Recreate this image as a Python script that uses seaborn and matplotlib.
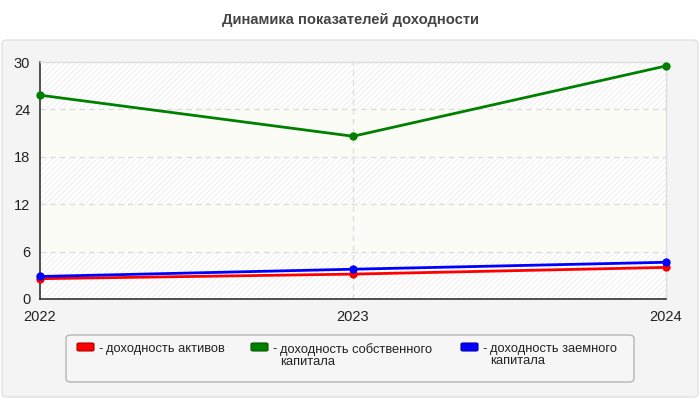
import numpy as np
import pandas as pd
import matplotlib.pyplot as plt
import seaborn as sns
from matplotlib.patches import FancyBboxPatch

# data
years = [2022, 2023, 2024]
roa = [2.57, 3.15, 4.0]        # доходность активов
roe = [25.8, 20.6, 29.5]       # доходность собственного капитала
rod = [2.85, 3.77, 4.65]       # доходность заемного капитала
labels = ['доходность активов',
          'доходность собственного\nкапитала',
          'доходность заемного\nкапитала']
colors = ['#ff0000', '#008000', '#0000ff']
edge_colors = ['#b00000', '#005a00', '#0000b0']
y_ticks = [0, 6, 12, 18, 24, 30]

df = pd.DataFrame({'year': years * 3,
                   'value': roa + roe + rod,
                   'series': [labels[0]] * 3 + [labels[1]] * 3 + [labels[2]] * 3})

sns.set_style('white')
plt.rcParams['font.family'] = ['Liberation Sans', 'DejaVu Sans']
plt.rcParams['hatch.linewidth'] = 0.6

fig = plt.figure(figsize=(7, 4), dpi=100)
fig.patch.set_facecolor('white')

# grey rounded panel under the title
panel = FancyBboxPatch((2 / 700, 3 / 400), 696 / 700, 357 / 400,
                       boxstyle='round,pad=0,rounding_size=0.008',
                       transform=fig.transFigure, facecolor='#f4f4f4',
                       edgecolor='#e2e2e2', linewidth=1, zorder=-5)
fig.patches.append(panel)

fig.text(0.5, 1 - 20 / 400, 'Динамика показателей доходности', ha='center', va='center',
         fontsize=10.6, fontweight='bold', color='#444444')

ax = fig.add_axes([40 / 700, 1 - 299 / 400, 626 / 700, 237 / 400])
ax.set_facecolor('white')

# alternating bands: hatched / pale yellow
for i in range(len(y_ticks) - 1):
    lo, hi = y_ticks[i], y_ticks[i + 1]
    if i % 2 == 0:
        ax.axhspan(lo, hi, facecolor='white', edgecolor='#ececec', hatch='//////',
                   linewidth=0, zorder=0)
    else:
        ax.axhspan(lo, hi, facecolor='#fcfcf6', linewidth=0, zorder=0)

for yt in y_ticks[1:-1]:
    ax.axhline(yt, color='#dddddd', linestyle=(0, (4, 3)), linewidth=1, zorder=1)
ax.axvline(2023, color='#dddddd', linestyle=(0, (4, 3)), linewidth=1, zorder=1)

sns.lineplot(data=df, x='year', y='value', hue='series', palette=colors,
             marker='o', markersize=6, markeredgewidth=0, linewidth=2,
             legend=False, ax=ax, zorder=3, clip_on=False)

ax.set_xlim(2022, 2024)
ax.set_ylim(0, 30)
ax.set_xticks(years)
ax.set_xticklabels([str(y) for y in years])
ax.set_yticks(y_ticks)
ax.set_xlabel('')
ax.set_ylabel('')
ax.tick_params(axis='both', labelsize=10.5, colors='#222222', direction='out',
               length=5, width=1, pad=2)
ax.tick_params(axis='x', pad=3)
for side in ['left', 'bottom']:
    ax.spines[side].set_color('#333333')
    ax.spines[side].set_linewidth(1.2)
for side in ['top', 'right']:
    ax.spines[side].set_color('#dddddd')
    ax.spines[side].set_linewidth(1)

# legend box
box = FancyBboxPatch((66 / 700, 1 - 382 / 400), 568 / 700, 47 / 400,
                     boxstyle='round,pad=0,rounding_size=0.008',
                     transform=fig.transFigure, facecolor='#f6f6f6',
                     edgecolor='#b5b5b5', linewidth=1, zorder=1)
fig.patches.append(box)
x_handles = [77, 251, 461]
for xh, lab, c, ec in zip(x_handles, labels, colors, edge_colors):
    sw = FancyBboxPatch((xh / 700, 1 - 351 / 400), 17 / 700, 8 / 400,
                        boxstyle='round,pad=0,rounding_size=0.003',
                        transform=fig.transFigure, facecolor=c, edgecolor=ec,
                        linewidth=0.8, zorder=2)
    fig.patches.append(sw)
    fig.text((xh + 21) / 700, 1 - 343 / 400, '-', ha='left', va='top',
             fontsize=9.3, color='#222222')
    fig.text((xh + 29) / 700, 1 - 343 / 400, lab, ha='left', va='top',
             fontsize=9.3, color='#222222', linespacing=1.05)

plt.savefig('out.png', dpi=100)
